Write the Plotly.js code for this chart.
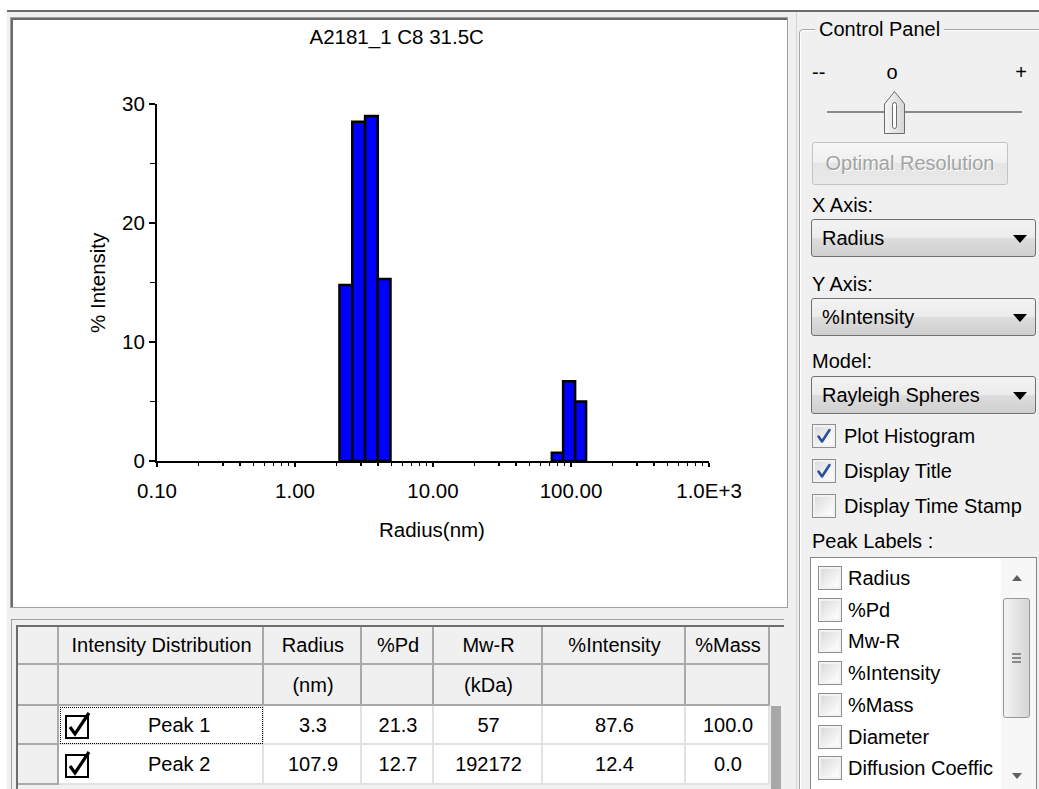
<!DOCTYPE html>
<html><head><meta charset="utf-8">
<title>A2181_1 C8 31.5C</title>
<script src="https://cdn.plot.ly/plotly-3.0.1.min.js"></script>
<style>
 html,body{margin:0;padding:0;background:#fff;overflow:hidden;}
 body{width:1039px;height:789px;position:relative;font-family:"Liberation Sans",Arial,sans-serif;}
 .a{position:absolute;box-sizing:border-box;}
 .t{position:absolute;white-space:nowrap;font-size:20px;line-height:24px;color:#000;}
 #plot{position:absolute;left:13px;top:20px;width:772px;height:586px;}
</style></head><body>
<div id="plot"></div>
<script>
// ---------------- chart data ----------------
const chartTitle = 'A2181_1 C8 31.5C';
const binLowerNm = [2.10, 2.60, 3.22, 3.98, 72.6, 87.7, 107.1];
const binUpperNm = [2.60, 3.22, 3.98, 4.92, 87.7, 107.1, 128.6];
const intensityPct = [14.8, 28.5, 29.0, 15.3, 0.7, 6.7, 5.0];
const xTickValues = [0.1, 1, 10, 100, 1000];
const xTickLabels = ['0.10', '1.00', '10.00', '100.00', '1.0E+3'];
const xAxisTitle = 'Radius(nm)';
const yAxisTitle = '% Intensity';

// ---------------- table data ----------------
const tableHeaders = ['Intensity Distribution', 'Radius', '%Pd', 'Mw-R', '%Intensity', '%Mass'];
const tableUnits = ['', '(nm)', '', '(kDa)', '', ''];
const peakNames = ['Peak 1', 'Peak 2'];
const peakRadius = ['3.3', '107.9'];
const peakPd = ['21.3', '12.7'];
const peakMwR = ['57', '192172'];
const peakIntensity = ['87.6', '12.4'];
const peakMass = ['100.0', '0.0'];

// ---------------- control panel options ----------------
const peakLabelOptions = ['Radius', '%Pd', 'Mw-R', '%Intensity', '%Mass', 'Diameter', 'Diffusion Coeffic'];
const panelChecks = [['Plot Histogram', true], ['Display Title', true], ['Display Time Stamp', false]];

// ---------------- helpers ----------------
const body = document.body;
const P = v => v + 'px';
function el(cls, style, txt) {
  const e = document.createElement('div');
  e.className = cls;
  Object.assign(e.style, style || {});
  if (txt != null) e.textContent = txt;
  body.insertBefore(e, document.getElementById('plot'));
  return e;
}
function rect(l, t, w, h, s) { return el('a', Object.assign({left: P(l), top: P(t), width: P(w), height: P(h)}, s || {})); }
function text(s, l, cy, st) { return el('t', Object.assign({left: P(l), top: P(cy - 12)}, st || {}), s); }
function ctext(s, cx, cy, st) { const e = text(s, cx, cy, st); e.style.transform = 'translateX(-50%)'; return e; }
function svg(l, t, w, h, inner) {
  const e = rect(l, t, w, h);
  e.innerHTML = '<svg width="' + w + '" height="' + h + '" style="display:block;overflow:visible">' + inner + '</svg>';
  return e;
}
function cbox(l, t, checked) {
  rect(l, t, 24, 24, {border: '1px solid #8e8f8f', background: 'linear-gradient(135deg,#d6d6d6,#f7f7f7 70%,#ffffff)', boxShadow: 'inset 0 0 0 2px #f2f2f2'});
  if (checked) svg(l, t, 24, 24, '<path d="M6.5 12.5 L10 17.5 L17.5 6" fill="none" stroke="#2b4f9e" stroke-width="2.6" stroke-linecap="round" stroke-linejoin="round"/>');
}

// ---------------- application background ----------------
rect(7, 10, 1032, 779, {background: '#f0f0f0', borderTop: '2px solid #6b6b6b'});
// chart frame
rect(10, 17, 778, 591, {background: '#fff', border: '1px solid #a0a0a0', boxShadow: 'inset 2px 2px 0 #6a6a6a'});
// splitter
rect(796, 12, 1, 777, {background: '#d4d4d4'});

// ---------------- control panel ----------------
rect(799, 29, 260, 800, {border: '1px solid #a6a6a6', borderRadius: '4px', boxShadow: 'inset 1px 1px 0 #fff'});
text('Control Panel', 815, 29, {background: '#f0f0f0', padding: '0 4px'});
text('--', 812, 72);
ctext('o', 892, 72);
ctext('+', 1021, 72);
rect(827, 111, 195, 2, {background: '#8a8a8a'});
svg(883, 90, 24, 45,
  '<defs><linearGradient id="tg" x1="0" x2="1"><stop offset="0" stop-color="#f6f6f6"/><stop offset="1" stop-color="#d6d6d6"/></linearGradient></defs>' +
  '<path d="M1.5 14 L11.5 1.5 L21.5 14 L21.5 43.5 L1.5 43.5 Z" fill="url(#tg)" stroke="#6c6c6c" stroke-width="1"/>' +
  '<rect x="9.5" y="12.5" width="4" height="26" rx="2" fill="#fff" stroke="#6c6c6c" stroke-width="1"/>');
rect(812, 142, 196, 43, {border: '1px solid #c3c3c3', borderRadius: '3px', background: 'linear-gradient(#f7f7f7,#efefef 50%,#e5e5e5 50%,#e9e9e9)'});
ctext('Optimal Resolution', 910, 163, {color: '#a3a3a3', textShadow: '1px 1px 0 #fff'});

function combo(label, top) {
  rect(811, top, 225, 38, {border: '1px solid #707070', borderRadius: '3px', background: 'linear-gradient(#f3f3f3,#ebebeb 50%,#dddddd 50%,#cfcfcf)'});
  text(label, 822, top + 19);
  rect(1013, top + 16, 14, 8, {width: '0', height: '0', borderLeft: '7px solid transparent', borderRight: '7px solid transparent', borderTop: '8px solid #000'});
}
text('X Axis:', 812, 205);
combo('Radius', 219);
text('Y Axis:', 812, 284);
combo('%Intensity', 298);
text('Model:', 812, 361);
combo('Rayleigh Spheres', 376);
panelChecks.forEach((c, i) => { cbox(812, 424 + 35 * i, c[1]); text(c[0], 844, 436 + 35 * i); });
text('Peak Labels :', 812, 541);

// list box
rect(810, 557, 227, 240, {background: '#fff', border: '1px solid #828790'});
peakLabelOptions.forEach((s, i) => {
  const cy = 578 + 31.7 * i;
  cbox(818, cy - 12, false);
  text(s, 848, cy);
});
rect(1001, 558, 35, 240, {background: '#f7f7f7'});
rect(1012, 575, 10, 6, {width: '0', height: '0', borderLeft: '5px solid transparent', borderRight: '5px solid transparent', borderBottom: '6px solid #606060'});
rect(1003, 598, 27, 120, {border: '1px solid #979797', borderRadius: '3px', background: 'linear-gradient(90deg,#f4f4f4,#e4e4e4 50%,#d6d6d6)'});
[653, 657, 661].forEach(y => rect(1012, y, 9, 2, {background: '#8a8a8a'}));
rect(1012, 773, 10, 6, {width: '0', height: '0', borderLeft: '5px solid transparent', borderRight: '5px solid transparent', borderTop: '6px solid #606060'});

// ---------------- peak table ----------------
rect(11, 619, 773, 180, {borderTop: '1px solid #a0a0a0', borderLeft: '1px solid #a0a0a0', background: '#f0f0f0'});
rect(16, 625, 768, 175, {borderTop: '2px solid #6d6d6d', borderLeft: '2px solid #6d6d6d', background: '#f0f0f0'});
const colEdges = [18, 59, 264, 362, 434, 543, 686, 770];
const rowEdges = [627, 665, 706, 745, 785, 825];
const dataCols = [null, peakRadius, peakPd, peakMwR, peakIntensity, peakMass];
for (let r = 0; r < 4; r++) {
  const y0 = rowEdges[r], h = rowEdges[r + 1] - y0, cy = y0 + h / 2 - 1;
  for (let c = 0; c < colEdges.length - 1; c++) {
    const x0 = colEdges[c], w = colEdges[c + 1] - x0, cx = x0 + w / 2;
    const isHead = r < 2 || c === 0;
    rect(x0, y0, w, h, isHead
      ? {background: '#f0f0f0', borderRight: '2px solid #a9a9a9', borderBottom: '2px solid #a9a9a9'}
      : {background: '#fff', borderRight: '2px solid #e2e2e2', borderBottom: '2px solid #e2e2e2'});
    if (c === 0) continue;
    if (r === 0) ctext(tableHeaders[c - 1], cx, cy);
    else if (r === 1) { if (tableUnits[c - 1]) ctext(tableUnits[c - 1], cx, cy); }
    else {
      const k = r - 2;
      if (c === 1) {
        svg(65, y0 + 8, 26, 26, '<rect x="1" y="2" width="22" height="22" fill="#fff" stroke="#000" stroke-width="2"/>' +
          '<path d="M5 13 L10 20 L24 -1" fill="none" stroke="#000" stroke-width="3.2"/>');
        text(peakNames[k], 148, cy);
      } else ctext(dataCols[c - 1][k], cx, cy);
    }
  }
}
rect(60, 707, 203, 37, {border: '1px dotted #000'});
rect(770, 627, 13, 79, {background: '#f0f0f0'});
rect(771, 706, 10, 90, {background: '#a8a8a8'});

// ---------------- chart ----------------
const minorX = [];
xTickValues.slice(0, -1).forEach(d => { for (let m = 2; m <= 9; m++) minorX.push(d * m); });
const barCenter = binLowerNm.map((lo, i) => (lo + binUpperNm[i]) / 2);
const barWidth = binLowerNm.map((lo, i) => binUpperNm[i] - lo);
const FONT = '"Liberation Sans", Arial, sans-serif';

const traces = [{
  type: 'bar', x: barCenter, y: intensityPct, width: barWidth,
  marker: {color: '#0000ff', line: {color: '#000', width: 2.5}},
  hoverinfo: 'skip', cliponaxis: false
}];
const common = {showgrid: false, zeroline: false, fixedrange: true};
const layout = {
  width: 772, height: 586,
  margin: {l: 144, r: 76, t: 84, b: 145},
  paper_bgcolor: '#fff', plot_bgcolor: '#fff', showlegend: false,
  font: {family: FONT, size: 20, color: '#000'},
  title: {text: chartTitle, font: {family: FONT, size: 20.5, color: '#000'}, x: 0.497, xref: 'container', y: 0.971, yref: 'container', xanchor: 'center', yanchor: 'middle'},
  xaxis: Object.assign({}, common, {
    type: 'log', range: [-1, 3], tickvals: xTickValues, ticktext: xTickLabels,
    ticks: 'outside', ticklen: 4, tickwidth: 2, tickcolor: '#000',
    showline: true, linecolor: '#000', linewidth: 2,
    tickfont: {family: FONT, size: 20.5, color: '#000'}, ticklabelstandoff: 6,
    minor: {tickvals: minorX, ticks: 'outside', ticklen: 3, tickwidth: 1.5, tickcolor: '#000', showgrid: false}
  }),
  yaxis: Object.assign({}, common, {
    range: [0, 30], tick0: 0, dtick: 10,
    ticks: 'outside', ticklen: 6, tickwidth: 2, tickcolor: '#000',
    showline: true, linecolor: '#000', linewidth: 2,
    tickfont: {family: FONT, size: 20.5, color: '#000'},
    minor: {dtick: 5, ticks: 'outside', ticklen: 5, tickwidth: 1.5, tickcolor: '#000', showgrid: false}
  }),
  xaxis2: Object.assign({}, common, {
    type: 'log', range: [-1, 3], overlaying: 'x', anchor: 'y', side: 'bottom',
    tickvals: xTickValues, ticks: 'inside', ticklen: 4, tickwidth: 2, tickcolor: '#000',
    showticklabels: false, showline: false,
    minor: {tickvals: minorX, ticks: 'inside', ticklen: 3, tickwidth: 1.5, tickcolor: '#000', showgrid: false}
  }),
  yaxis2: Object.assign({}, common, {
    range: [0, 30], overlaying: 'y', anchor: 'x', side: 'left', tick0: 0, dtick: 10,
    ticks: 'inside', ticklen: 3, tickwidth: 2, tickcolor: '#000',
    showticklabels: false, showline: false,
    minor: {dtick: 5, ticks: 'inside', ticklen: 3, tickwidth: 1.5, tickcolor: '#000', showgrid: false}
  }),
  annotations: [
    {text: xAxisTitle, xref: 'paper', yref: 'paper', x: 0.498, y: -0.193, xanchor: 'center', yanchor: 'middle', showarrow: false, font: {family: FONT, size: 20.5, color: '#000'}},
    {text: yAxisTitle, xref: 'paper', yref: 'paper', x: -0.109, y: 0.501, xanchor: 'center', yanchor: 'middle', textangle: -90, showarrow: false, font: {family: FONT, size: 20.5, color: '#000'}}
  ]
};
Plotly.newPlot('plot', traces, layout, {staticPlot: true, displayModeBar: false});
</script>
</body></html>
